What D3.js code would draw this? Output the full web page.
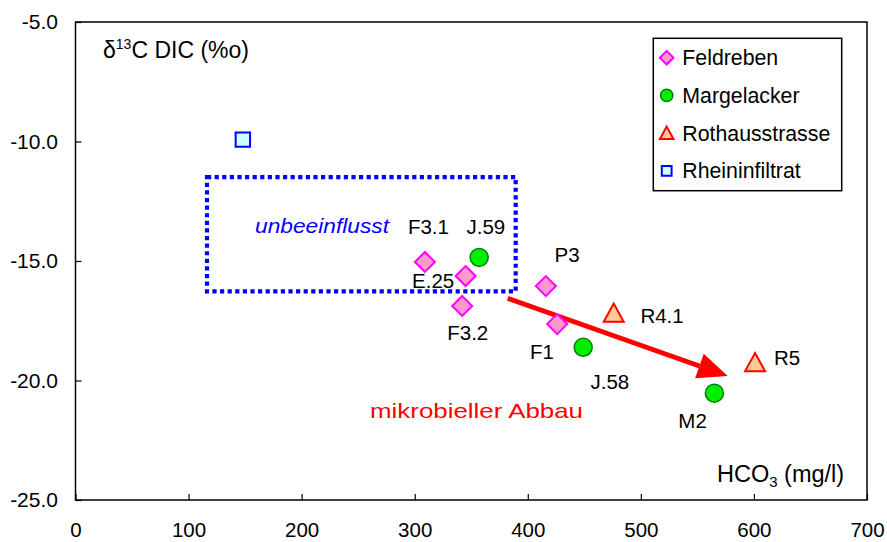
<!DOCTYPE html>
<html><head><meta charset="utf-8">
<script src="https://cdn.jsdelivr.net/npm/d3@7"></script>
<style>body{margin:0;background:#fff}svg{display:block}text{font-family:"Liberation Sans",Arial,sans-serif}</style>
</head><body>
<script>
// ---- data ----
const xTicks = [0,100,200,300,400,500,600,700];
const yTicks = [-5,-10,-15,-20,-25];
const seriesNames = ["Feldreben","Margelacker","Rothausstrasse","Rheininfiltrat"];

const feldrebenLabels = ["F3.1","E.25","F3.2","P3","F1"];
const feldrebenHCO3  = [309, 345, 342, 416, 426];
const feldrebenD13C  = [-15.04, -15.63, -16.88, -16.05, -17.64];

const margelackerLabels = ["J.59","J.58","M2"];
const margelackerHCO3  = [357, 449, 565];
const margelackerD13C  = [-14.85, -18.61, -20.53];

const rothausLabels = ["R4.1","R5"];
const rothausHCO3  = [476, 601];
const rothausD13C  = [-17.18, -19.25];

const rheinLabels = [""];
const rheinHCO3  = [148];
const rheinD13C  = [-9.92];

// annotations (data units)
const boxCorners = [[116.3, -11.49],[389.3, -16.27]];
const arrowPoints = [[382.2, -16.56],[576.8, -19.81]];

// ---- layout ----
const W = 887, H = 542;
const plot = {l:75.5, t:22, r:867, b:500};
const labelOffsets = {
  "F3.1":[-17,-28], "J.59":[-12.7,-23.3], "E.25":[-53.5,11.7], "F3.2":[-15,34],
  "P3":[8.6,-24.3], "F1":[-27.3,35.3], "J.58":[7.3,42], "R4.1":[26.7,9.6],
  "R5":[19,2.5], "M2":[-36,35]
};

const x = d3.scaleLinear().domain([0,700]).range([plot.l, plot.r]);
const y = d3.scaleLinear().domain([-25,-5]).range([plot.b, plot.t]);

const svg = d3.select("body").append("svg").attr("width",W).attr("height",H);

const styles = {
  Feldreben:{shape:"diamond", fill:"#ff99cc", stroke:"#ff00ff"},
  Margelacker:{shape:"circle", fill:"#00ee00", stroke:"#008000"},
  Rothausstrasse:{shape:"triangle", fill:"#ffcc99", stroke:"#ff0000"},
  Rheininfiltrat:{shape:"square", fill:"#ccffff", stroke:"#0000ff"}
};

function markerPath(shape, s){
  if(shape==="diamond") return `M0,${-s}L${s},0L0,${s}L${-s},0Z`;
  if(shape==="triangle") return `M0,${-s}L${s*1.05},${s*0.9}L${-s*1.05},${s*0.9}Z`;
  if(shape==="square") return `M${-s},${-s}H${s}V${s}H${-s}Z`;
  return d3.arc()({innerRadius:0,outerRadius:s,startAngle:0,endAngle:2*Math.PI});
}
function drawMarker(g, name, cx, cy, scale){
  const st = styles[name];
  const size = {diamond:10, circle:9, triangle:9.5, square:7.2}[st.shape]*scale;
  g.append("path").attr("d", markerPath(st.shape,size))
    .attr("transform",`translate(${cx},${cy})`)
    .attr("fill",st.fill).attr("stroke",st.stroke)
    .attr("stroke-width", st.shape==="circle"?1.5:2);
}

// axes
const yAxis = d3.axisLeft(y).tickValues(yTicks).tickSize(-6).tickPadding(17.5).tickFormat(d=>d.toFixed(1));
const gy = svg.append("g").attr("transform",`translate(${plot.l},0)`).call(yAxis);
gy.select(".domain").remove();
gy.selectAll("text").attr("font-size",21).attr("fill","#000").attr("font-family","Liberation Sans, Arial");
gy.selectAll("line").attr("stroke","#000").attr("stroke-width",1.2);

const xAxis = d3.axisBottom(x).tickValues(xTicks).tickSize(-6).tickPadding(22).tickFormat(d=>String(d));
const gx = svg.append("g").attr("transform",`translate(0,${plot.b})`).call(xAxis);
gx.select(".domain").remove();
gx.selectAll("text").attr("font-size",20.5).attr("fill","#000").attr("font-family","Liberation Sans, Arial");
gx.selectAll("line").attr("stroke","#000").attr("stroke-width",1.2);

svg.append("rect").attr("x",plot.l).attr("y",plot.t).attr("width",plot.r-plot.l).attr("height",plot.b-plot.t)
  .attr("fill","none").attr("stroke","#000").attr("stroke-width",1.5);

// axis titles
const yt = svg.append("text").attr("x",103).attr("y",58).attr("font-size",23);
yt.append("tspan").text("δ");
yt.append("tspan").text("13").attr("font-size",14).attr("dy",-9);
yt.append("tspan").text("C DIC (%o)").attr("dy",9);

const xt = svg.append("text").attr("x",717).attr("y",482).attr("font-size",23.5);
xt.append("tspan").text("HCO");
xt.append("tspan").text("3").attr("font-size",15).attr("dy",5);
xt.append("tspan").text(" (mg/l)").attr("dy",-5);

// box
svg.append("rect")
  .attr("x",x(boxCorners[0][0])).attr("y",y(boxCorners[0][1]))
  .attr("width",x(boxCorners[1][0])-x(boxCorners[0][0]))
  .attr("height",y(boxCorners[1][1])-y(boxCorners[0][1]))
  .attr("fill","none").attr("stroke","#0000ff").attr("stroke-width",4.2).attr("stroke-dasharray","4.2,3.4");

svg.append("text").attr("x",255).attr("y",233).attr("font-size",21).attr("font-style","italic")
  .attr("fill","#0000ff").attr("textLength",134).attr("lengthAdjust","spacingAndGlyphs").text("unbeeinflusst");

// arrow
const [p0,p1] = arrowPoints.map(p=>[x(p[0]),y(p[1])]);
const ang = Math.atan2(p1[1]-p0[1], p1[0]-p0[0]);
const headLen = 30, headW = 13;
const bx = p1[0]-headLen*Math.cos(ang), by = p1[1]-headLen*Math.sin(ang);
svg.append("line").attr("x1",p0[0]).attr("y1",p0[1]).attr("x2",bx).attr("y2",by)
  .attr("stroke","#ff0000").attr("stroke-width",4.8);
svg.append("path").attr("fill","#ff0000")
  .attr("d",`M${p1[0]},${p1[1]}L${bx+headW*Math.sin(ang)},${by-headW*Math.cos(ang)}L${bx-headW*Math.sin(ang)},${by+headW*Math.cos(ang)}Z`);

svg.append("text").attr("x",370).attr("y",418).attr("font-size",21).attr("fill","#ff0000")
  .attr("textLength",213).attr("lengthAdjust","spacingAndGlyphs").text("mikrobieller Abbau");

// points
const allSeries = [
  {name:"Rheininfiltrat", labels:rheinLabels, xs:rheinHCO3, ys:rheinD13C},
  {name:"Feldreben", labels:feldrebenLabels, xs:feldrebenHCO3, ys:feldrebenD13C},
  {name:"Margelacker", labels:margelackerLabels, xs:margelackerHCO3, ys:margelackerD13C},
  {name:"Rothausstrasse", labels:rothausLabels, xs:rothausHCO3, ys:rothausD13C}
];
const gp = svg.append("g");
const gl = svg.append("g");
allSeries.forEach(s=>{
  s.xs.forEach((v,i)=>{
    const cx = x(v), cy = y(s.ys[i]);
    drawMarker(gp, s.name, cx, cy, 1);
    const lab = s.labels[i];
    if(lab){
      const o = labelOffsets[lab];
      gl.append("text").attr("x",cx+o[0]).attr("y",cy+o[1]).attr("font-size",20.5).attr("fill","#000").text(lab);
    }
  });
});

// legend
const lg = svg.append("g");
lg.append("rect").attr("x",653.3).attr("y",38.3).attr("width",188.4).attr("height",152.4)
  .attr("fill","#fff").attr("stroke","#000").attr("stroke-width",1.5);
seriesNames.forEach((n,i)=>{
  const cy = 57.7 + i*37.7;
  drawMarker(lg, n, 666.7, cy, 0.68);
  lg.append("text").attr("x",682.3).attr("y",cy).attr("dy","0.36em").attr("font-size",21.3).text(n);
});
</script>
</body></html>
